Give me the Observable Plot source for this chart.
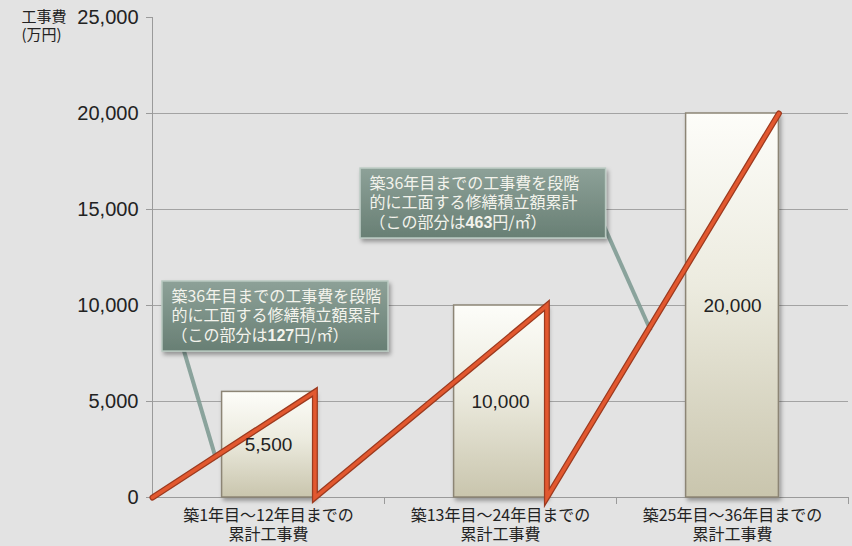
<!DOCTYPE html>
<html>
<head>
<meta charset="utf-8">
<script src="https://cdn.jsdelivr.net/npm/d3@7"></script>
<script src="https://cdn.jsdelivr.net/npm/@observablehq/plot@0.6"></script>
<style>
  html, body { margin: 0; padding: 0; background: #e3e3e3; }
  #chart { width: 852px; height: 546px; }
</style>
</head>
<body>
<div id="chart"></div>
<script>
// ---- data ----
const categories = ["築1年目〜12年目までの\n累計工事費", "築13年目〜24年目までの\n累計工事費", "築25年目〜36年目までの\n累計工事費"];
const costs = [5500, 10000, 20000];
const yTicks = [0, 5000, 10000, 15000, 20000, 25000];
const axisTitle = "工事費\n(万円)";
const noteLines1 = ["築36年目までの工事費を段階", "的に工面する修繕積立額累計"];
const noteRates = [127, 463];

// ---- layout (data coordinates for annotations) ----
const half = 0.2; // half bar width in band units
const noteBoxes = [
  {x1: -0.457, x2: 0.517, y1: 7600, y2: 11250, lx1: -0.366, ly1: 7700, lx2: -0.226, ly2: 2000},
  {x1: 0.397, x2: 1.455, y1: 13490, y2: 17130, lx1: 1.440, ly1: 14300, lx2: 1.647, ly2: 8700}
];

const fmt = d3.format(",");
const bars = costs.map((v, i) => ({i, v}));
const linePts = [{x: -0.5, y: 0}];
costs.forEach((v, i) => {
  linePts.push({x: i + half, y: v});
  if (i < costs.length - 1) linePts.push({x: i + half, y: 0});
});
const noteText = [];
noteBoxes.forEach((b, n) => {
  noteLines1.forEach((t, k) => noteText.push({x: b.x1, y: b.y2, k, t}));
  noteText.push({x: b.x1, y: b.y2, k: 2, t: `（この部分は${noteRates[n]}円/㎡）`, rate: noteRates[n]});
});

const textMarks = [0, 1, 2].map(k => Plot.text(noteText.filter(d => d.k === k), {
  x: "x", y: "y", text: "t", textAnchor: "start", lineAnchor: "middle",
  dx: 9, dy: 15 + k * 19.5, fill: "#f3f3ec", fontSize: 16,
  fontFamily: "Noto Sans CJK JP", className: "note-line"
}));

const plot = Plot.plot({
  width: 852, height: 546,
  marginLeft: 152, marginRight: 4, marginTop: 17, marginBottom: 49,
  style: {background: "#e3e3e3", fontFamily: "Liberation Sans, Noto Sans CJK JP, sans-serif", color: "#222"},
  x: {type: "linear", domain: [-0.5, 2.5]},
  y: {domain: [0, 25000]},
  marks: [
    Plot.gridY([5000, 10000, 15000, 20000], {stroke: "#a3a3a3", strokeOpacity: 1, strokeWidth: 1}),
    Plot.ruleX([-0.5], {stroke: "#9a9a9a"}),
    Plot.ruleY([0], {stroke: "#9a9a9a"}),
    Plot.axisY({ticks: yTicks, tickFormat: fmt, tickSize: 6, tickPadding: 8, fontSize: 20, stroke: "#9a9a9a", fill: "#222", label: null}),
    Plot.axisX({ticks: [0, 1, 2], tickFormat: i => categories[i], tickSize: 0, tickPadding: 10, fontSize: 16, lineHeight: 1.2, fill: "#222", fontFamily: "Noto Sans CJK JP", label: null}),
    Plot.axisX({ticks: [0.5, 1.5, 2.5], tickFormat: () => "", tickSize: 7, stroke: "#9a9a9a", label: null}),
    Plot.text([axisTitle], {frameAnchor: "top-left", text: d => d, dx: -131, dy: 8, textAnchor: "start", lineAnchor: "middle", fontSize: 15, lineHeight: 1.2, fill: "#222", fontFamily: "Noto Sans CJK JP"}),
    Plot.link(noteBoxes, {x1: "lx1", y1: "ly1", x2: "lx2", y2: "ly2", stroke: "#7f9b93", strokeWidth: 4, strokeOpacity: 0.9}),
    Plot.rect(bars, {x1: d => d.i - half, x2: d => d.i + half, y1: 0, y2: "v", fill: "url(#barGrad)", stroke: "#8c8575", strokeWidth: 1.5, className: "bar"}),
    Plot.line(linePts, {x: "x", y: "y", stroke: "#9c3a1f", strokeWidth: 6, strokeLinejoin: "miter", strokeMiterlimit: 10}),
    Plot.line(linePts, {x: "x", y: "y", stroke: "#e2582f", strokeWidth: 3.5, strokeLinejoin: "miter", strokeMiterlimit: 10}),
    Plot.rect(noteBoxes, {x1: "x1", x2: "x2", y1: "y1", y2: "y2", fill: "url(#boxGrad)", stroke: "#b9c9c1", strokeWidth: 1.5, className: "notebox"}),
    ...textMarks,
    Plot.text(bars, {x: "i", y: d => d.v / 2, text: d => fmt(d.v), fontSize: 19, fill: "#222"})
  ]
});

// gradients & shadow
const svg = d3.select(plot);
const defs = svg.insert("defs", ":first-child");
const bg = defs.append("linearGradient").attr("id", "barGrad").attr("x1", 0).attr("y1", 0).attr("x2", 0).attr("y2", 1);
bg.append("stop").attr("offset", "0%").attr("stop-color", "#fdfdf9");
bg.append("stop").attr("offset", "45%").attr("stop-color", "#ecebdf");
bg.append("stop").attr("offset", "100%").attr("stop-color", "#c9c5ad");
const gg = defs.append("linearGradient").attr("id", "boxGrad").attr("x1", 0).attr("y1", 0).attr("x2", 0).attr("y2", 1);
gg.append("stop").attr("offset", "0%").attr("stop-color", "#8da198");
gg.append("stop").attr("offset", "100%").attr("stop-color", "#687f74");
const f = defs.append("filter").attr("id", "shadow").attr("x", "-10%").attr("y", "-10%").attr("width", "130%").attr("height", "140%");
f.append("feDropShadow").attr("dx", 2).attr("dy", 3).attr("stdDeviation", 2).attr("flood-color", "#000").attr("flood-opacity", 0.35);
svg.selectAll(".notebox").attr("filter", "url(#shadow)");
svg.selectAll(".bar").attr("filter", "url(#shadow)");

// bold numbers in third note lines
svg.selectAll(".note-line text").each(function() {
  const t = this.textContent;
  const m = t.match(/^(.*?)(\d+)(円.*)$/);
  if (!m) return;
  const el = d3.select(this);
  el.text(null);
  el.append("tspan").text(m[1]);
  el.append("tspan").attr("font-weight", "bold").attr("font-family", "Liberation Sans").text(m[2]);
  el.append("tspan").text(m[3]);
});

document.getElementById("chart").appendChild(plot);
</script>
</body>
</html>
